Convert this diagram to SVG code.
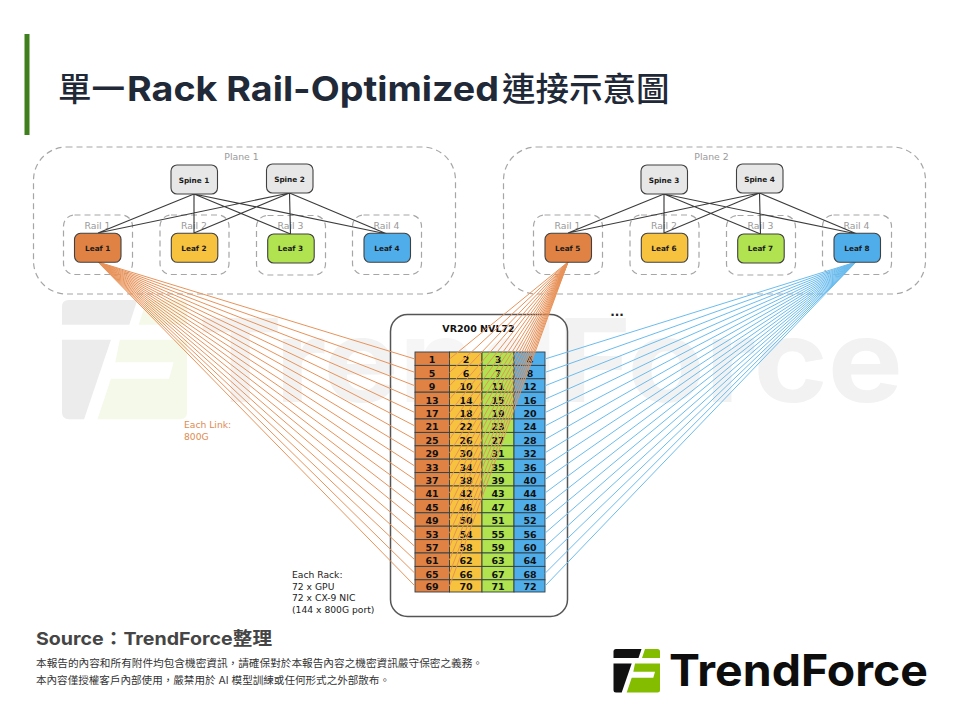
<svg xmlns="http://www.w3.org/2000/svg" width="960" height="720" viewBox="0 0 960 720">
<style>
text{font-family:"DejaVu Sans",sans-serif}
.plane,.rail{fill:none;stroke:#a6a6a6;stroke-width:1.2;stroke-dasharray:6 4}
.glabel{font-size:9.300px;fill:#9a9a9a;text-anchor:middle}
.sw{stroke:#404040;stroke-width:1.1;rx:6px}
.nlabel{font-size:7.300px;font-weight:700;fill:#1a1a1a;text-anchor:middle}
.spine{fill:#e7e7e7}.or{fill:#e08244}.ye{fill:#f7c33f}.gr{fill:#b1e24f}.bl{fill:#4faeea}
.w{stroke:#3c3c3c;stroke-width:1.150;fill:none}
.lo{stroke:#e8935a;stroke-width:1;fill:none}
.lb{stroke:#6bbcee;stroke-width:1;fill:none}
.cell{stroke:#2f3f4a;stroke-width:.9}
.num{font-size:9.500px;font-weight:700;fill:#111;text-anchor:middle}
.note{font-size:9.200px;fill:#222}
.ui{font-family:Inter,"Noto Sans CJK TC",sans-serif}
.cjk{font-family:"Noto Sans CJK TC",sans-serif}
</style>
<defs>
<g id="mark">
<path d="M0 2.500Q0 0 2.500 0H28L25 9H0Z"/>
<path d="M0 14.500H18.200L8.200 43.500H2.500Q0 43.500 0 41Z"/>
</g>
<g id="markg">
<path d="M31.500 0H44Q46.500 0 46.500 2.500V9H28.500Z"/>
<path d="M21.500 14.500H46.500V41Q46.500 43.500 44 43.500H13.200L18.200 28.700H39.800L41.500 22.700H19.800Z"/>
</g>
</defs>
<g id="watermark">
<use href="#mark" transform="translate(62 300) scale(2.690 2.740)" fill="#ececec"/>
<use href="#markg" transform="translate(62 300) scale(2.690 2.740)" fill="#f5f9e9"/>
<text class="ui" x="198" y="402" font-size="115" font-weight="700" fill="#f2f2f2" textLength="705" lengthAdjust="spacingAndGlyphs">TrendForce</text>
</g>
<g id="header">
<rect x="24.500" y="34" width="5" height="101" fill="#3f7f1d"/>
<text class="cjk" x="58" y="101" font-size="33.500" font-weight="500" fill="#1f2937">單一</text>
<text class="ui" x="127" y="101" font-size="34" font-weight="700" fill="#1f2937" textLength="372" lengthAdjust="spacingAndGlyphs">Rack Rail-Optimized</text>
<text class="cjk" x="502" y="101" font-size="33.500" font-weight="500" fill="#1f2937">連接示意圖</text>
</g>
<g id="plane1">
<rect class="plane" x="33.500" y="147" width="422" height="147" rx="33"/>
<text class="glabel" x="241.500" y="160">Plane 1</text>
<rect class="rail" x="63.500" y="215" width="69" height="59.500" rx="11"/><text class="glabel" x="97.500" y="229">Rail 1</text>
<rect class="rail" x="160" y="215" width="69" height="59.500" rx="11"/><text class="glabel" x="194" y="229">Rail 2</text>
<rect class="rail" x="256.500" y="215.500" width="69" height="59.500" rx="11"/><text class="glabel" x="290.500" y="229">Rail 3</text>
<rect class="rail" x="352.500" y="215" width="69" height="59.500" rx="11"/><text class="glabel" x="386.500" y="229">Rail 4</text>
</g>
<g id="plane2">
<rect class="plane" x="503.500" y="147" width="422" height="147" rx="33"/>
<text class="glabel" x="711.500" y="160">Plane 2</text>
<rect class="rail" x="533.500" y="215" width="69" height="59.500" rx="11"/><text class="glabel" x="567.500" y="229">Rail 1</text>
<rect class="rail" x="630" y="215" width="69" height="59.500" rx="11"/><text class="glabel" x="664" y="229">Rail 2</text>
<rect class="rail" x="726.500" y="215.500" width="69" height="59.500" rx="11"/><text class="glabel" x="760.500" y="229">Rail 3</text>
<rect class="rail" x="822.500" y="215" width="69" height="59.500" rx="11"/><text class="glabel" x="856.500" y="229">Rail 4</text>
</g>
<g id="rack">
<rect x="390.500" y="314.500" width="177" height="302" rx="17" fill="#fff" fill-opacity=".35" stroke="#555" stroke-width="1.500"/>
<text x="478.500" y="332" font-size="9.500" font-weight="700" fill="#111" text-anchor="middle">VR200 NVL72</text>
<g id="table">
<rect class="cell or" x="415" y="352" width="34.500" height="13.400"/><rect class="cell ye" x="449.500" y="352" width="32.500" height="13.400"/><rect class="cell gr" x="482" y="352" width="32" height="13.400"/><rect class="cell bl" x="514" y="352" width="31" height="13.400"/>
<rect class="cell or" x="415" y="365.400" width="34.500" height="13.400"/><rect class="cell ye" x="449.500" y="365.400" width="32.500" height="13.400"/><rect class="cell gr" x="482" y="365.400" width="32" height="13.400"/><rect class="cell bl" x="514" y="365.400" width="31" height="13.400"/>
<rect class="cell or" x="415" y="378.800" width="34.500" height="13.400"/><rect class="cell ye" x="449.500" y="378.800" width="32.500" height="13.400"/><rect class="cell gr" x="482" y="378.800" width="32" height="13.400"/><rect class="cell bl" x="514" y="378.800" width="31" height="13.400"/>
<rect class="cell or" x="415" y="392.200" width="34.500" height="13.400"/><rect class="cell ye" x="449.500" y="392.200" width="32.500" height="13.400"/><rect class="cell gr" x="482" y="392.200" width="32" height="13.400"/><rect class="cell bl" x="514" y="392.200" width="31" height="13.400"/>
<rect class="cell or" x="415" y="405.600" width="34.500" height="13.400"/><rect class="cell ye" x="449.500" y="405.600" width="32.500" height="13.400"/><rect class="cell gr" x="482" y="405.600" width="32" height="13.400"/><rect class="cell bl" x="514" y="405.600" width="31" height="13.400"/>
<rect class="cell or" x="415" y="419" width="34.500" height="13.400"/><rect class="cell ye" x="449.500" y="419" width="32.500" height="13.400"/><rect class="cell gr" x="482" y="419" width="32" height="13.400"/><rect class="cell bl" x="514" y="419" width="31" height="13.400"/>
<rect class="cell or" x="415" y="432.400" width="34.500" height="13.400"/><rect class="cell ye" x="449.500" y="432.400" width="32.500" height="13.400"/><rect class="cell gr" x="482" y="432.400" width="32" height="13.400"/><rect class="cell bl" x="514" y="432.400" width="31" height="13.400"/>
<rect class="cell or" x="415" y="445.800" width="34.500" height="13.400"/><rect class="cell ye" x="449.500" y="445.800" width="32.500" height="13.400"/><rect class="cell gr" x="482" y="445.800" width="32" height="13.400"/><rect class="cell bl" x="514" y="445.800" width="31" height="13.400"/>
<rect class="cell or" x="415" y="459.200" width="34.500" height="13.400"/><rect class="cell ye" x="449.500" y="459.200" width="32.500" height="13.400"/><rect class="cell gr" x="482" y="459.200" width="32" height="13.400"/><rect class="cell bl" x="514" y="459.200" width="31" height="13.400"/>
<rect class="cell or" x="415" y="472.600" width="34.500" height="13.400"/><rect class="cell ye" x="449.500" y="472.600" width="32.500" height="13.400"/><rect class="cell gr" x="482" y="472.600" width="32" height="13.400"/><rect class="cell bl" x="514" y="472.600" width="31" height="13.400"/>
<rect class="cell or" x="415" y="486" width="34.500" height="13.400"/><rect class="cell ye" x="449.500" y="486" width="32.500" height="13.400"/><rect class="cell gr" x="482" y="486" width="32" height="13.400"/><rect class="cell bl" x="514" y="486" width="31" height="13.400"/>
<rect class="cell or" x="415" y="499.400" width="34.500" height="13.400"/><rect class="cell ye" x="449.500" y="499.400" width="32.500" height="13.400"/><rect class="cell gr" x="482" y="499.400" width="32" height="13.400"/><rect class="cell bl" x="514" y="499.400" width="31" height="13.400"/>
<rect class="cell or" x="415" y="512.800" width="34.500" height="13.400"/><rect class="cell ye" x="449.500" y="512.800" width="32.500" height="13.400"/><rect class="cell gr" x="482" y="512.800" width="32" height="13.400"/><rect class="cell bl" x="514" y="512.800" width="31" height="13.400"/>
<rect class="cell or" x="415" y="526.200" width="34.500" height="13.400"/><rect class="cell ye" x="449.500" y="526.200" width="32.500" height="13.400"/><rect class="cell gr" x="482" y="526.200" width="32" height="13.400"/><rect class="cell bl" x="514" y="526.200" width="31" height="13.400"/>
<rect class="cell or" x="415" y="539.600" width="34.500" height="13.400"/><rect class="cell ye" x="449.500" y="539.600" width="32.500" height="13.400"/><rect class="cell gr" x="482" y="539.600" width="32" height="13.400"/><rect class="cell bl" x="514" y="539.600" width="31" height="13.400"/>
<rect class="cell or" x="415" y="553" width="34.500" height="13.400"/><rect class="cell ye" x="449.500" y="553" width="32.500" height="13.400"/><rect class="cell gr" x="482" y="553" width="32" height="13.400"/><rect class="cell bl" x="514" y="553" width="31" height="13.400"/>
<rect class="cell or" x="415" y="566.400" width="34.500" height="13.400"/><rect class="cell ye" x="449.500" y="566.400" width="32.500" height="13.400"/><rect class="cell gr" x="482" y="566.400" width="32" height="13.400"/><rect class="cell bl" x="514" y="566.400" width="31" height="13.400"/>
<rect class="cell or" x="415" y="579.800" width="34.500" height="12.200"/><rect class="cell ye" x="449.500" y="579.800" width="32.500" height="12.200"/><rect class="cell gr" x="482" y="579.800" width="32" height="12.200"/><rect class="cell bl" x="514" y="579.800" width="31" height="12.200"/>
</g>
<g id="nums">
<text class="num" x="432" y="363.300">1</text><text class="num" x="466" y="363.300">2</text><text class="num" x="498" y="363.300">3</text><text class="num" x="530" y="363.300">4</text>
<text class="num" x="432" y="376.700">5</text><text class="num" x="466" y="376.700">6</text><text class="num" x="498" y="376.700">7</text><text class="num" x="530" y="376.700">8</text>
<text class="num" x="432" y="390.100">9</text><text class="num" x="466" y="390.100">10</text><text class="num" x="498" y="390.100">11</text><text class="num" x="530" y="390.100">12</text>
<text class="num" x="432" y="403.500">13</text><text class="num" x="466" y="403.500">14</text><text class="num" x="498" y="403.500">15</text><text class="num" x="530" y="403.500">16</text>
<text class="num" x="432" y="416.900">17</text><text class="num" x="466" y="416.900">18</text><text class="num" x="498" y="416.900">19</text><text class="num" x="530" y="416.900">20</text>
<text class="num" x="432" y="430.300">21</text><text class="num" x="466" y="430.300">22</text><text class="num" x="498" y="430.300">23</text><text class="num" x="530" y="430.300">24</text>
<text class="num" x="432" y="443.700">25</text><text class="num" x="466" y="443.700">26</text><text class="num" x="498" y="443.700">27</text><text class="num" x="530" y="443.700">28</text>
<text class="num" x="432" y="457.100">29</text><text class="num" x="466" y="457.100">30</text><text class="num" x="498" y="457.100">31</text><text class="num" x="530" y="457.100">32</text>
<text class="num" x="432" y="470.500">33</text><text class="num" x="466" y="470.500">34</text><text class="num" x="498" y="470.500">35</text><text class="num" x="530" y="470.500">36</text>
<text class="num" x="432" y="483.900">37</text><text class="num" x="466" y="483.900">38</text><text class="num" x="498" y="483.900">39</text><text class="num" x="530" y="483.900">40</text>
<text class="num" x="432" y="497.300">41</text><text class="num" x="466" y="497.300">42</text><text class="num" x="498" y="497.300">43</text><text class="num" x="530" y="497.300">44</text>
<text class="num" x="432" y="510.700">45</text><text class="num" x="466" y="510.700">46</text><text class="num" x="498" y="510.700">47</text><text class="num" x="530" y="510.700">48</text>
<text class="num" x="432" y="524.100">49</text><text class="num" x="466" y="524.100">50</text><text class="num" x="498" y="524.100">51</text><text class="num" x="530" y="524.100">52</text>
<text class="num" x="432" y="537.500">53</text><text class="num" x="466" y="537.500">54</text><text class="num" x="498" y="537.500">55</text><text class="num" x="530" y="537.500">56</text>
<text class="num" x="432" y="550.900">57</text><text class="num" x="466" y="550.900">58</text><text class="num" x="498" y="550.900">59</text><text class="num" x="530" y="550.900">60</text>
<text class="num" x="432" y="564.300">61</text><text class="num" x="466" y="564.300">62</text><text class="num" x="498" y="564.300">63</text><text class="num" x="530" y="564.300">64</text>
<text class="num" x="432" y="577.700">65</text><text class="num" x="466" y="577.700">66</text><text class="num" x="498" y="577.700">67</text><text class="num" x="530" y="577.700">68</text>
<text class="num" x="432" y="590.100">69</text><text class="num" x="466" y="590.100">70</text><text class="num" x="498" y="590.100">71</text><text class="num" x="530" y="590.100">72</text>
</g>
</g>
<g id="connectors">
<path class="w" d="M194 194L98 233M194 194V233M194 194L290.500 234M194 194L387 234M289.500 193L98 233M289.500 193L194 233M289.500 193L290.500 234M289.500 193L387 234"/>
<path class="w" d="M664 194L568 233M664 194V233M664 194L760.500 234M664 194L857 234M759.500 193L568 233M759.500 193L664 233M759.500 193L760.500 234M759.500 193L857 234"/>
<path class="lo" d="M98 262L415 359M98 262L415 372.400M98 262L415 385.800M98 262L415 399.200M98 262L415 412.600M98 262L415 426M98 262L415 439.400M98 262L415 452.800M98 262L415 466.200M98 262L415 479.600M98 262L415 493M98 262L415 506.400M98 262L415 519.800M98 262L415 533.200M98 262L415 546.600M98 262L415 560M98 262L415 573.400M98 262L415 586"/>
<path class="lo" d="M568 262L449.500 359M568 262L449.500 372.400M568 262L449.500 385.800M568 262L449.500 399.200M568 262L449.500 412.600M568 262L449.500 426M568 262L449.500 439.400M568 262L449.500 452.800M568 262L449.500 466.200M568 262L449.500 479.600M568 262L449.500 493M568 262L449.500 506.400M568 262L449.500 519.800M568 262L449.500 533.200M568 262L449.500 546.600M568 262L449.500 560M568 262L449.500 573.400M568 262L449.500 586"/>
<path class="lb" d="M856 262L545 359M856 262L545 372.400M856 262L545 385.800M856 262L545 399.200M856 262L545 412.600M856 262L545 426M856 262L545 439.400M856 262L545 452.800M856 262L545 466.200M856 262L545 479.600M856 262L545 493M856 262L545 506.400M856 262L545 519.800M856 262L545 533.200M856 262L545 546.600M856 262L545 560M856 262L545 573.400M856 262L545 586"/>
</g>
<g id="spine1"><rect class="sw spine" x="171" y="165" width="46.500" height="29"/><text class="nlabel" x="194" y="182.500">Spine 1</text></g>
<g id="spine2"><rect class="sw spine" x="266.500" y="164" width="46.500" height="29"/><text class="nlabel" x="289.500" y="181.500">Spine 2</text></g>
<g id="spine3"><rect class="sw spine" x="641" y="165" width="46.500" height="29"/><text class="nlabel" x="664" y="182.500">Spine 3</text></g>
<g id="spine4"><rect class="sw spine" x="736.500" y="164" width="46.500" height="29"/><text class="nlabel" x="759.500" y="181.500">Spine 4</text></g>
<g id="leaf1"><rect class="sw or" x="74.500" y="233.300" width="46.500" height="29"/><text class="nlabel" x="97.700" y="251">Leaf 1</text></g>
<g id="leaf2"><rect class="sw ye" x="171.300" y="233.300" width="46.500" height="29"/><text class="nlabel" x="194" y="251">Leaf 2</text></g>
<g id="leaf3"><rect class="sw gr" x="267.700" y="234" width="46.500" height="29"/><text class="nlabel" x="290.500" y="251">Leaf 3</text></g>
<g id="leaf4"><rect class="sw bl" x="364" y="233.300" width="46.500" height="29"/><text class="nlabel" x="387" y="251">Leaf 4</text></g>
<g id="leaf5"><rect class="sw or" x="545" y="233.300" width="46.500" height="29"/><text class="nlabel" x="567.700" y="251">Leaf 5</text></g>
<g id="leaf6"><rect class="sw ye" x="641.300" y="233.300" width="46.500" height="29"/><text class="nlabel" x="664" y="251">Leaf 6</text></g>
<g id="leaf7"><rect class="sw gr" x="737.700" y="234" width="46.500" height="29"/><text class="nlabel" x="760.500" y="251">Leaf 7</text></g>
<g id="leaf8"><rect class="sw bl" x="834" y="233.300" width="46.500" height="29"/><text class="nlabel" x="857" y="251">Leaf 8</text></g>
<g id="notes">
<text x="617" y="316" font-size="12" font-weight="700" fill="#222" text-anchor="middle">...</text>
<text x="184" y="428" font-size="9.200" fill="#e08a50">Each Link:</text>
<text x="184" y="440" font-size="9.200" fill="#e08a50">800G</text>
<text class="note" x="292" y="578">Each Rack:</text>
<text class="note" x="292" y="589.500">72 x GPU</text>
<text class="note" x="292" y="601">72 x CX-9 NIC</text>
<text class="note" x="292" y="612.500">(144 x 800G port)</text>
</g>
<g id="footer">
<text class="ui" x="36" y="645" font-size="18" font-weight="700" fill="#454545" textLength="236" lengthAdjust="spacingAndGlyphs">Source：TrendForce整理</text>
<text class="ui" x="36" y="667" font-size="10" fill="#333" textLength="447" lengthAdjust="spacingAndGlyphs">本報告的內容和所有附件均包含機密資訊，請確保對於本報告內容之機密資訊嚴守保密之義務。</text>
<text class="ui" x="36" y="684" font-size="10" fill="#333" textLength="354" lengthAdjust="spacingAndGlyphs">本內容僅授權客戶內部使用，嚴禁用於 AI 模型訓練或任何形式之外部散布。</text>
</g>
<g id="logo">
<use href="#mark" transform="translate(613.500 649)" fill="#111"/>
<use href="#markg" transform="translate(613.500 649)" fill="#84bd00"/>
<text class="ui" x="669" y="686" font-size="44" font-weight="700" fill="#0d0d0d" textLength="259" lengthAdjust="spacingAndGlyphs">TrendForce</text>
</g>
</svg>
